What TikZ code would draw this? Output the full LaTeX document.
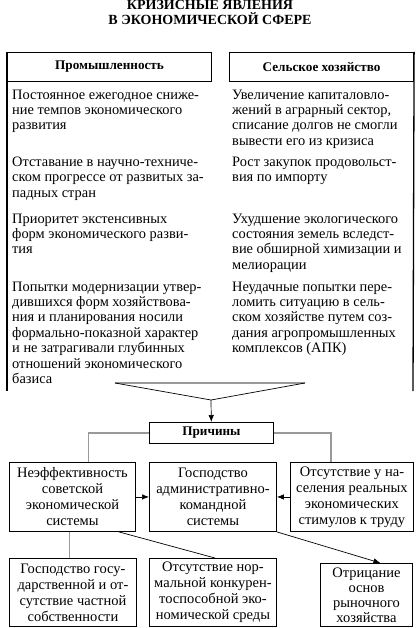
\documentclass[tikz,border=0pt]{standalone}
\usepackage{fontspec}
\setmainfont{Liberation Serif}
\usetikzlibrary{positioning, arrows.meta}

\begin{document}
\begin{tikzpicture}[
  x=1pt, y=-1pt,
  txt/.style={anchor=north west, align=left, inner sep=0pt, font=\fontsize{14.4}{15.4}\selectfont},
  hdr/.style={rectangle, draw, line width=1.1pt, anchor=north west, minimum height=29pt, font=\fontsize{13.2}{15}\selectfont\bfseries},
  box/.style={rectangle, draw, line width=0.9pt, anchor=north west, align=center, inner sep=1pt, font=\fontsize{14.5}{16}\selectfont},
  frame/.style={line width=1.3pt},
  link/.style={draw=black!40, line width=1.3pt},
  thinline/.style={line width=0.7pt},
  arr/.style={-{Latex[length=7pt, width=5.5pt]}, line width=0.7pt}
]
\useasboundingbox (0,0) rectangle (419,628);
\node[align=center, inner sep=0pt, font=\fontsize{14}{15}\selectfont\bfseries] (title) at (210,12) {КРИЗИСНЫЕ ЯВЛЕНИЯ\\В ЭКОНОМИЧЕСКОЙ СФЕРЕ};

\node[hdr, minimum width=204pt] (prom) at (7,52) {Промышленность};
\node[hdr, minimum width=184pt] (selo) at (229,52) {Сельское хозяйство};
\coordinate (promend) at (7,391);
\coordinate (seloend) at (413,391);
\draw[frame] (prom.north west) -- (promend);
\draw[frame] (selo.north east) -- (seloend);

\node[txt] (prom1) at (12,89.5) {Постоянное ежегодное сниже-\\ние темпов экономического\\развития};
\node[txt] (prom2) at (12,156.5) {Отставание в научно-техниче-\\ском прогрессе от развитых за-\\падных стран};
\node[txt] (prom3) at (12,213.5) {Приоритет экстенсивных\\форм экономического разви-\\тия};
\node[txt] (prom4) at (12,281.5) {Попытки модернизации утвер-\\дившихся форм хозяйствова-\\ния и планирования носили\\формально-показной характер\\и не затрагивали глубинных\\отношений экономического\\базиса};
\node[txt] (selo1) at (232,89.5) {Увеличение капиталовло-\\жений в аграрный сектор,\\списание долгов не смогли\\вывести его из кризиса};
\node[txt] (selo2) at (232,156.5) {Рост закупок продовольст-\\вия по импорту};
\node[txt] (selo3) at (232,213.5) {Ухудшение экологического\\состояния земель вследст-\\вие обширной химизации и\\мелиорации};
\node[txt] (selo4) at (232,281.5) {Неудачные попытки пере-\\ломить ситуацию в сель-\\ском хозяйстве путем соз-\\дания агропромышленных\\комплексов (АПК)};

\coordinate (fl) at (115,383);
\coordinate (fr) at (305,383);
\coordinate (fm) at (211,400);
\draw[link] (fl) -- (fr);
\draw[thinline] (fl) -- (fm) -- (fr);

\node[box, font=\fontsize{13.2}{15}\selectfont\bfseries, minimum width=124pt, minimum height=21pt] (prich) at (149,422) {Причины};
\draw[arr] (fm) -- (prich);

\node[box, minimum width=126pt, minimum height=69pt] (neeff) at (9,462) {Неэффективность\\советской\\экономической\\системы};
\node[box, minimum width=127pt, minimum height=69pt] (gosp) at (149,462) {Господство\\административно-\\командной\\системы};
\node[box, minimum width=123pt, minimum height=69pt] (stim) at (290,462) {Отсутствие у на-\\селения реальных\\экономических\\стимулов к труду};

\node[box, minimum width=127pt, minimum height=68pt] (sobst) at (9,558) {Господство госу-\\дарственной и от-\\сутствие частной\\собственности};
\node[box, minimum width=127pt, minimum height=68pt] (sreda) at (149,558) {Отсутствие нор-\\мальной конкурен-\\тоспособной эко-\\номической среды};
\node[box, font=\fontsize{14.5}{15}\selectfont, minimum width=92pt, minimum height=63pt] (otric) at (320,563) {Отрицание\\основ\\рыночного\\хозяйства};

\draw[link] (prich.west) -| ([xshift=16pt]neeff.north);
\draw[link] (prich.east) -| ([xshift=-21pt]stim.north);
\draw[arr] (neeff) -- (gosp);
\draw[arr] (stim) -- (gosp);
\draw[link] ([xshift=-3pt]neeff.south) -- ([xshift=-3pt]neeff.south |- sobst.north);
\draw[thinline] ([xshift=-17pt]neeff.south east) -- ([xshift=2pt]sreda.north);
\draw[arr] (gosp.south east) -- ([xshift=14pt]otric.north);
\end{tikzpicture}
\end{document}
